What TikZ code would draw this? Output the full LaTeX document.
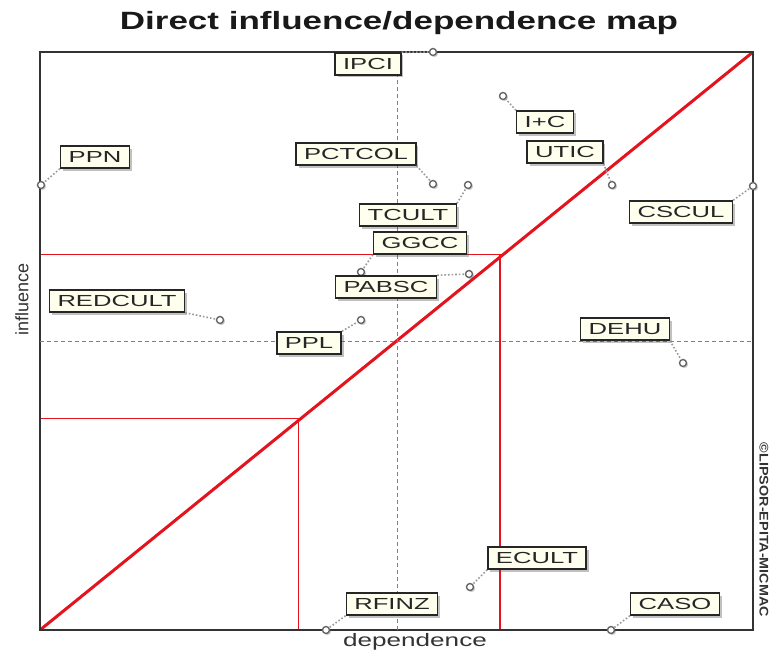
\documentclass[tikz,border=0pt]{standalone}
\usepackage{fontspec}
\usepackage{graphicx}
\setmainfont{Liberation Sans}
\usetikzlibrary{shadows}
\definecolor{lbfill}{HTML}{FFFFEE}
\definecolor{mapred}{HTML}{E3141E}
\newcommand\lbtext[1]{\scalebox{1.6}[1]{#1}}
\begin{document}
\begin{tikzpicture}[x=1pt,y=-1pt,
  lbl/.style={draw=black!85, line width=1.5pt, fill=lbfill, inner xsep=8pt, inner ysep=3pt,
    minimum height=22pt, text height=11.5pt, text depth=0pt,
    font=\fontsize{16}{16}\selectfont, text=black!85,
    drop shadow={shadow xshift=2.5pt, shadow yshift=-2.5pt, opacity=0.35, fill=black!70}},
  pt/.style={circle, draw=black!60, fill=white, line width=1.4pt, minimum size=7pt, inner sep=0pt,
    drop shadow={shadow xshift=1.5pt, shadow yshift=-1.5pt, opacity=0.3, fill=black!70}},
  lead/.style={draw=black!40, dotted, line width=1.6pt},
  frame/.style={draw=black!80, line width=1.8pt},
  axisline/.style={draw=black!50, line width=0.8pt, dash pattern=on 4pt off 3pt},
  redline/.style={color=mapred, line width=1.6pt},
  diag/.style={color=mapred, line width=3pt},
  axislabel/.style={font=\fontsize{18}{18}\selectfont, text=black!80, inner sep=0pt}]
\useasboundingbox (0,0) rectangle (778,658);

% title
\node[font=\bfseries\fontsize{25}{25}\selectfont, text=black!90, anchor=base] (title) at (399,30)
  {\scalebox{1.4}[1]{Direct influence/dependence map}};

% sector lines and diagonal
\draw[diag] (40,630) -- (753,52);
\draw[redline] (40,418.5) -- (298.5,418.5) -- (298.5,630);
\draw[redline] (40,254.5) -- (500,254.5) -- (500,630);

% frame and mean axes
\draw[frame] (40,52) rectangle (753,630);
\draw[axisline] (397,52) -- (397,630);
\draw[axisline] (40,341) -- (753,341);

% axis titles
\node[axislabel, rotate=90] (ylab) at (22,299) {influence};
\node[axislabel] (xlab) at (415,642) {\scalebox{1.45}[1]{dependence}};
\node[font=\bfseries\fontsize{12.5}{12.5}\selectfont, text=black!80, rotate=-90, inner sep=0pt] (copy) at (764,530)
  {\scalebox{1.15}[1]{©LIPSOR-EPITA-MICMAC}};

% variables: points
\node[pt] (pIPCI) at (433,52) {};
\node[pt] (pIC) at (503,96) {};
\node[pt] (pPPN) at (41,185) {};
\node[pt] (pPCTCOL) at (433,184) {};
\node[pt] (pUTIC) at (612,185) {};
\node[pt] (pTCULT) at (468,185) {};
\node[pt] (pCSCUL) at (753,186) {};
\node[pt] (pGGCC) at (361,272) {};
\node[pt] (pPABSC) at (469,274) {};
\node[pt] (pREDCULT) at (220,320) {};
\node[pt] (pPPL) at (361,320) {};
\node[pt] (pDEHU) at (683,363) {};
\node[pt] (pECULT) at (470,587) {};
\node[pt] (pRFINZ) at (326,630) {};
\node[pt] (pCASO) at (611,630) {};

% variables: labels
\node[lbl] (IPCI) at (368,64) {\lbtext{IPCI}};
\node[lbl] (IC) at (545,122) {\lbtext{I+C}};
\node[lbl] (PPN) at (95,157) {\lbtext{PPN}};
\node[lbl] (PCTCOL) at (356,154) {\lbtext{PCTCOL}};
\node[lbl] (UTIC) at (565,152) {\lbtext{UTIC}};
\node[lbl] (TCULT) at (408,215) {\lbtext{TCULT}};
\node[lbl] (CSCUL) at (681,212) {\lbtext{CSCUL}};
\node[lbl] (GGCC) at (420,243) {\lbtext{GGCC}};
\node[lbl] (PABSC) at (386,287) {\lbtext{PABSC}};
\node[lbl] (REDCULT) at (117,301) {\lbtext{REDCULT}};
\node[lbl] (PPL) at (309,343) {\lbtext{PPL}};
\node[lbl] (DEHU) at (625,329) {\lbtext{DEHU}};
\node[lbl] (ECULT) at (537,558) {\lbtext{ECULT}};
\node[lbl] (RFINZ) at (392,604) {\lbtext{RFINZ}};
\node[lbl] (CASO) at (675,604) {\lbtext{CASO}};

% leaders from labels to points
\draw[lead] (IPCI.north east) -- (pIPCI);
\draw[lead] (IC.north west) -- (pIC);
\draw[lead] (PPN.south west) -- (pPPN);
\draw[lead] (PCTCOL.south east) -- (pPCTCOL);
\draw[lead] (UTIC.south east) -- (pUTIC);
\draw[lead] (TCULT.north east) -- (pTCULT);
\draw[lead] (CSCUL.north east) -- (pCSCUL);
\draw[lead] (GGCC.south west) -- (pGGCC);
\draw[lead] (PABSC.north east) -- (pPABSC);
\draw[lead] (REDCULT.south east) -- (pREDCULT);
\draw[lead] (PPL.north east) -- (pPPL);
\draw[lead] (DEHU.south east) -- (pDEHU);
\draw[lead] (ECULT.south west) -- (pECULT);
\draw[lead] (RFINZ.south west) -- (pRFINZ);
\draw[lead] (CASO.south west) -- (pCASO);
\end{tikzpicture}
\end{document}
